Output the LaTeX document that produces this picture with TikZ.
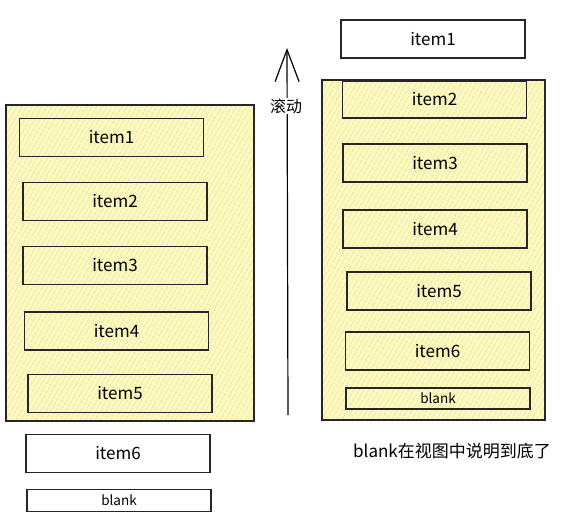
\documentclass[tikz,border=0pt]{standalone}
\usepackage{fontspec}
\setmainfont{Noto Sans CJK SC}
\usepackage{xcolor}
\usetikzlibrary{arrows.meta,patterns.meta}
\definecolor{viewyellow}{HTML}{FBF8C0}
\definecolor{hatchyellow}{HTML}{E4DE7C}

\begin{document}
\begin{tikzpicture}[x=1pt, y=-1pt,
    viewport/.style={draw=black!85, line width=1.4pt, preaction={fill=viewyellow},
      pattern={Lines[angle=60,distance=4pt,line width=0.6pt]}, pattern color=hatchyellow},
    item/.style={draw=black!85, line width=1.2pt, minimum width=184pt, minimum height=38pt,
      inner sep=0pt, font=\fontsize{17}{19}\selectfont},
    outside/.style={item, fill=white},
    thin/.style={minimum height=22pt, font=\fontsize{13.5}{15}\selectfont}]
        \useasboundingbox (0,0) rectangle (567,525);

        % the visible area, before and after
        \node[viewport, minimum width=248pt, minimum height=316pt] (leftview) at (130,263) {};
        \node[viewport, minimum width=223pt, minimum height=340pt] (rightview) at (433.5,250) {};

        % left: list at the start
        \node[item] (litem1) at (111.5,137.5) {item1};
        \node[item] (litem2) at (115,201.5) {item2};
        \node[item] (litem3) at (115,265.5) {item3};
        \node[item] (litem4) at (116.5,331) {item4};
        \node[item] (litem5) at (120,393.5) {item5};
        \node[outside] (litem6) at (118,453.5) {item6};
        \node[outside, thin] (lblank) at (119,500.5) {blank};

        % right: list scrolled to the end
        \node[outside] (ritem1) at (433,39) {item1};
        \node[item, minimum height=37pt] (ritem2) at (434.5,99.5) {item2};
        \node[item] (ritem3) at (435,163) {item3};
        \node[item] (ritem4) at (435,229) {item4};
        \node[item] (ritem5) at (439,291) {item5};
        \node[item] (ritem6) at (437.5,351) {item6};
        \node[item, thin, minimum height=21pt] (rblank) at (438,398.5) {blank};

        % scroll arrow
        \coordinate (scrollfrom) at (288,415);
        \coordinate (scrollto) at (287,48);
        \draw[line width=1.2pt, -{Straight Barb[length=32pt,width=24pt,line width=1.2pt]}] (scrollfrom) -- (scrollto);
        \node[fill=white, inner sep=1pt, font=\fontsize{16}{18}\selectfont] (scrolllabel) at (286,106) {滚动};

        \node[font=\fontsize{17}{19}\selectfont] (note) at (452,451) {blank在视图中说明到底了};
    \end{tikzpicture}
\end{document}
